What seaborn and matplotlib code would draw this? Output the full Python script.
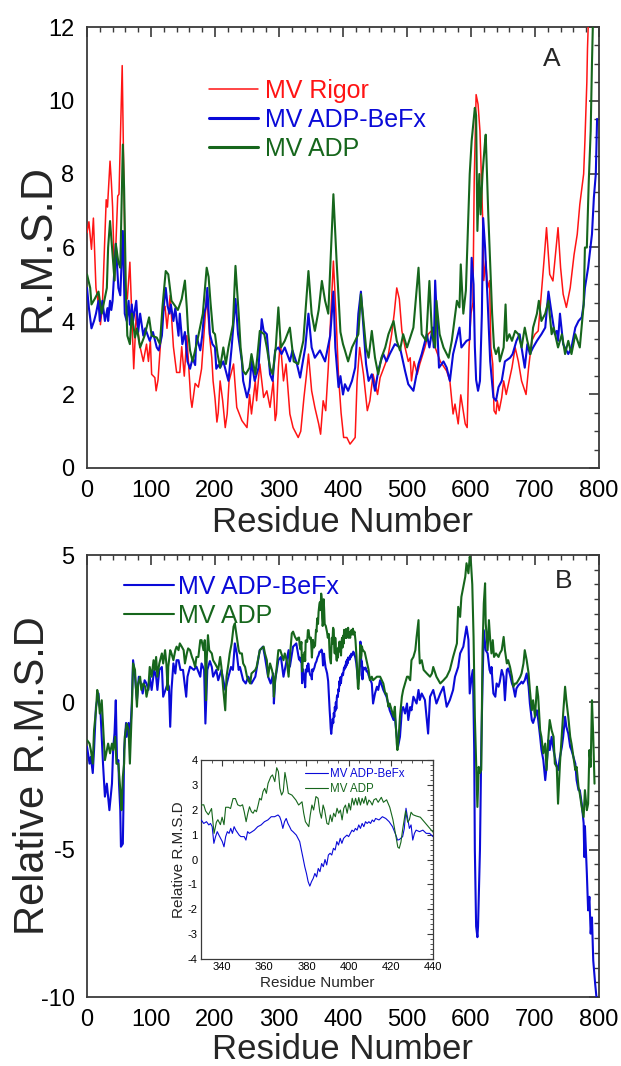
import matplotlib
matplotlib.use("Agg")
import matplotlib.pyplot as plt
import seaborn as sns
from matplotlib.ticker import MultipleLocator
from matplotlib.lines import Line2D

sns.set_style("white")
plt.rcParams['font.family'] = ['Liberation Sans', 'DejaVu Sans']
plt.rcParams['axes.unicode_minus'] = False

# ---------------- data (residue, value) ----------------
rigor_pts = [(0,6.4),(3,6.7),(7,5.95),(10,6.8),(14,4.9),(18,4.45),(19,4.7),(21,3.9),(24,4.4),(30,7.3),(32,7.1),(36,8.35),(38,7.8),(40,7.1),(43,5.1),(48,7.4),(50,7.45),(55,10.95),(60,4.9),(63,4.6),(67,5.6),(73,2.7),(77,4.2),(82,3.37),(88,2.9),(93,3.37),(96,2.9),(99,3.46),(101,2.55),(106,2.46),(108,2.1),(111,2.4),(118,4.2),(122,4.4),(125,3.8),(130,4.7),(135,3.3),(140,2.6),(145,2.6),(148,3.3),(152,2.5),(156,3.6),(162,1.9),(164,1.65),(169,2.3),(174,2.2),(179,2.7),(183,3.7),(187,4.7),(192,3.5),(195,3.0),(197,2.37),(200,1.9),(203,1.25),(205,1.5),(208,2.37),(212,1.83),(216,1.1),(219,1.47),(222,2.37),(229,2.83),(234,1.65),(242,1.29),(250,1.1),(254,2.0),(257,1.47),(263,2.37),(265,1.83),(270,2.83),(276,1.92),(281,2.1),(286,1.65),(291,2.37),(294,1.29),(296,1.47),(299,2.73),(302,3.46),(307,2.37),(311,2.83),(317,1.47),(322,1.1),(330,0.83),(334,1.0),(339,1.92),(343,2.55),(346,3.1),(351,2.1),(356,1.65),(362,1.2),(365,0.92),(369,1.83),(373,1.56),(377,2.73),(381,4.2),(385,5.63),(389,4.2),(393,2.5),(397,1.5),(401,0.83),(406,0.83),(411,0.65),(419,0.83),(422,2.37),(426,3.28),(432,2.55),(438,1.56),(442,1.83),(447,2.55),(454,2.0),(458,2.46),(466,2.83),(471,3.1),(476,3.64),(480,4.2),(484,4.9),(488,4.6),(492,3.73),(497,3.28),(502,2.9),(505,3.0),(507,2.37),(511,2.9),(516,2.55),(520,2.83),(528,3.28),(533,3.64),(538,3.73),(544,3.28),(552,2.9),(562,2.64),(567,2.37),(572,1.47),(575,1.74),(580,1.2),(584,1.99),(591,1.2),(594,1.1),(597,3.28),(600,4.2),(603,4.5),(605,7.8),(608,10.16),(611,9.9),(614,9.17),(618,6.9),(620,5.1),(623,5.63),(626,4.9),(629,5.1),(631,3.28),(634,2.83),(636,1.56),(639,1.47),(641,1.83),(644,1.56),(648,1.92),(651,2.37),(655,2.0),(664,2.73),(669,3.28),(674,2.9),(679,2.37),(686,2.0),(690,2.73),(695,3.46),(700,3.64),(705,3.73),(709,4.55),(714,5.63),(718,6.54),(723,5.27),(728,5.09),(733,6.0),(736,6.54),(740,5.45),(744,4.73),(749,4.37),(755,4.9),(761,5.8),(766,6.36),(770,7.17),(776,8.0),(778,8.9),(781,10.5),(782,11.4),(784,12.5)]

befx_pts = [(0,4.9),(3,4.35),(7,3.8),(11,4.0),(14,4.2),(18,4.55),(20,4.0),(24,4.55),(28,4.0),(32,4.35),(33,4.0),(36,4.55),(38,4.3),(40,4.55),(45,6.1),(49,4.9),(52,4.7),(56,6.45),(59,4.2),(62,4.0),(65,4.55),(67,3.9),(70,4.45),(72,4.0),(77,4.55),(80,3.7),(83,4.2),(88,3.6),(91,3.8),(93,3.7),(98,3.46),(103,3.7),(109,3.28),(112,3.2),(117,3.6),(120,4.4),(123,4.9),(126,4.4),(129,4.2),(131,4.45),(135,4.0),(138,4.35),(143,3.6),(145,4.2),(149,3.37),(153,3.7),(157,2.9),(161,2.7),(165,2.99),(169,2.8),(171,3.6),(177,3.2),(180,3.6),(183,4.2),(186,4.4),(188,4.9),(192,3.64),(196,3.37),(200,3.28),(202,2.7),(205,2.8),(208,2.73),(213,2.9),(221,2.37),(226,3.28),(232,4.6),(236,3.64),(242,2.9),(244,2.37),(250,1.92),(254,2.2),(257,2.9),(262,2.37),(268,2.73),(270,3.28),(273,4.05),(276,3.73),(281,3.64),(286,2.55),(290,2.37),(294,3.2),(299,3.28),(304,3.1),(309,3.28),(317,2.9),(321,3.2),(328,2.83),(333,2.46),(341,3.28),(346,4.2),(351,3.28),(356,3.0),(364,3.2),(372,2.9),(380,3.6),(385,4.8),(388,3.28),(393,2.2),(396,2.5),(400,2.0),(403,2.28),(408,2.1),(414,2.37),(419,2.73),(424,4.2),(428,4.8),(432,3.8),(436,2.83),(440,2.37),(445,2.55),(450,2.1),(455,2.64),(459,2.9),(463,3.1),(468,2.9),(473,3.1),(481,3.37),(489,3.28),(497,2.64),(502,2.28),(510,2.1),(518,2.83),(523,3.1),(531,3.64),(535,3.28),(540,3.82),(542,3.28),(544,5.1),(550,2.73),(557,2.9),(562,2.73),(567,2.37),(572,3.1),(582,3.82),(585,3.28),(593,3.46),(598,3.5),(601,5.72),(604,5.0),(606,3.3),(608,2.4),(611,2.1),(614,2.37),(617,4.2),(619,6.8),(622,6.0),(626,4.55),(630,2.9),(635,1.92),(639,1.83),(643,2.2),(648,2.37),(653,2.9),(661,3.0),(665,3.1),(671,3.46),(676,3.64),(679,3.28),(684,2.73),(688,3.37),(692,3.1),(697,3.28),(703,3.46),(710,3.64),(716,3.82),(721,4.8),(726,4.2),(731,3.64),(734,3.73),(736,3.46),(739,4.2),(744,3.37),(752,3.1),(757,3.28),(763,3.82),(768,4.0),(773,4.1),(776,4.45),(778,4.9),(783,5.45),(789,6.36),(792,7.36),(795,8.0),(797,9.5)]

adp_pts = [(0,5.27),(5,4.9),(7,4.45),(12,4.6),(18,4.8),(23,4.2),(27,4.55),(31,4.9),(33,6.0),(36,6.72),(40,5.8),(43,5.1),(45,6.1),(49,5.6),(52,5.45),(56,8.8),(58,7.6),(61,4.6),(63,3.6),(67,3.37),(70,4.2),(75,3.55),(78,3.8),(83,3.28),(90,3.6),(97,4.1),(101,3.6),(109,3.55),(114,3.37),(118,4.4),(123,5.36),(127,5.27),(132,4.55),(136,4.45),(142,4.3),(148,4.6),(153,5.1),(156,4.35),(158,3.7),(161,3.2),(165,2.9),(170,3.28),(174,3.6),(181,4.2),(187,5.45),(190,5.2),(193,4.5),(197,3.7),(200,3.64),(204,3.1),(208,2.73),(213,3.28),(217,2.83),(221,3.28),(228,3.9),(232,5.5),(237,4.2),(240,3.28),(244,2.64),(248,2.55),(254,2.73),(257,3.1),(263,2.55),(266,3.0),(270,3.73),(277,3.64),(281,3.28),(286,2.73),(290,2.55),(295,3.3),(299,4.37),(303,3.28),(309,3.46),(317,3.82),(323,2.9),(330,2.83),(338,3.46),(346,5.36),(351,4.2),(356,3.73),(362,4.3),(367,5.09),(372,4.55),(377,4.2),(385,7.45),(390,5.63),(396,3.7),(400,3.37),(403,3.2),(408,2.9),(414,3.28),(419,3.46),(424,3.64),(428,4.73),(431,4.2),(436,3.28),(440,3.0),(445,3.73),(450,3.0),(455,2.55),(460,3.0),(466,3.28),(471,3.64),(479,4.0),(484,3.46),(489,3.2),(494,3.64),(500,3.28),(510,3.82),(518,5.45),(523,3.64),(530,3.46),(535,5.09),(539,3.64),(544,3.28),(546,4.55),(551,3.64),(557,3.28),(565,3.0),(570,3.46),(578,4.55),(582,4.37),(584,5.54),(588,4.2),(592,4.83),(596,6.9),(598,8.0),(601,8.9),(604,9.44),(606,9.8),(608,9.6),(610,6.45),(613,8.0),(615,6.9),(618,8.0),(622,8.9),(623,9.07),(627,6.9),(631,5.1),(633,4.2),(636,3.28),(639,3.1),(643,3.28),(645,2.9),(651,3.28),(654,4.45),(656,3.46),(660,3.64),(664,3.46),(669,3.73),(674,3.64),(679,3.28),(684,3.82),(688,3.46),(693,3.1),(697,3.82),(703,4.2),(706,4.55),(710,4.0),(716,4.2),(721,4.55),(726,3.64),(729,3.82),(736,3.28),(742,3.64),(747,3.1),(752,3.46),(757,3.1),(763,3.64),(770,3.28),(776,4.45),(778,6.0),(781,6.0),(784,7.8),(787,9.17),(789,11.0),(791,12.5)]

# relative RMSD, panel B: residues 0-329 and 441-800 (330-440 from the inset arrays)
befx_rel_lo = [(0,-1.51),(4,-2.08),(6,-1.85),(9,-2.4),(11,-1.62),(14,-0.15),(18,0.3),(19,-0.05),(21,-0.27),(25,-2.08),(28,-3.2),(31,-2.76),(35,-3.66),(37,-3.2),(39,-2.76),(41,-1.51),(43,-1.05),(45,0.07),(47,-2.08),(49,-1.96),(50,-2.76),(52,-3.66),(53,-4.9),(56,-4.8),(57,-3.44),(58,-1.62),(61,-0.7),(62,-1.17),(65,-0.7),(67,-1.28),(70,-0.05),(72,1.43),(75,0.87),(78,0.07),(81,0.87),(84,0.64),(87,0.3),(90,0.75),(93,0.64),(96,0.42),(98,0.87),(101,0.42),(105,1.1),(108,0.87),(110,0.42),(113,1.1),(117,1.2),(119,0.19),(126,0.64),(128,0.53),(130,-0.83),(132,0.42),(135,1.32),(138,0.98),(140,1.43),(143,1.43),(146,1.1),(150,1.1),(155,0.19),(157,0.87),(161,1.21),(167,1.1),(171,1.21),(177,0.87),(179,1.32),(183,1.1),(185,-0.72),(188,1.1),(192,1.4),(195,1.2),(197,0.87),(202,1.1),(205,0.75),(210,1.1),(216,0.42),(221,0.87),(225,1.2),(228,1.1),(231,2.0),(234,1.66),(237,1.1),(239,1.2),(244,0.75),(248,0.64),(252,0.87),(257,0.64),(263,0.87),(270,1.77),(275,1.89),(278,1.54),(283,0.87),(287,0.64),(291,0.98),(292,-0.04),(294,0.75),(299,1.43),(303,1.54),(307,0.87),(315,1.77),(317,1.21),(322,1.89),(327,2.0)]
befx_rel_hi = [(445,0.64),(447,-0.04),(450,0.3),(453,0.53),(455,0.42),(458,0.75),(463,0.42),(468,0.19),(473,-0.27),(479,-0.6),(481,-0.49),(484,-1.17),(486,-1.5),(489,-1.17),(492,-0.27),(494,-0.16),(497,-0.38),(500,-0.04),(502,-0.6),(505,-0.16),(507,-0.27),(510,0.19),(515,-0.04),(518,0.42),(520,0.08),(523,0.3),(528,0.08),(533,-1.06),(536,0.19),(541,0.42),(546,-0.04),(552,0.3),(557,0.53),(562,-0.15),(567,0.08),(572,0.42),(575,0.87),(580,1.2),(583,1.66),(588,1.89),(593,2.57),(596,2.12),(598,0.3),(601,0.87),(603,1.1),(605,-1.6),(606,-5.0),(608,-7.6),(610,-7.97),(611,-7.6),(614,-5.0),(616,-1.6),(618,0.64),(620,2.45),(623,1.77),(626,1.66),(629,1.1),(631,0.98),(632,1.2),(635,0.3),(638,0.19),(640,0.64),(643,0.53),(645,0.7),(648,1.1),(651,0.87),(653,0.07),(656,1.1),(658,1.15),(661,0.93),(664,0.64),(666,0.53),(669,0.19),(671,0.47),(674,0.58),(677,0.64),(679,0.7),(681,0.64),(684,0.75),(687,0.98),(690,0.53),(692,-0.04),(695,-0.6),(697,-0.7),(703,-0.27),(705,-0.6),(708,-1.17),(710,-1.6),(713,-1.96),(716,-2.64),(718,-2.19),(721,-1.28),(723,-1.62),(726,-1.17),(729,-1.62),(731,-1.85),(734,-2.19),(736,-2.3),(739,-1.85),(742,-1.51),(744,-1.17),(747,-0.49),(749,-0.83),(752,-1.06),(755,-1.51),(757,-1.62),(760,-1.85),(763,-2.08),(765,-2.64),(768,-2.98),(770,-2.98),(773,-3.44),(776,-4.1),(777,-5.25),(778,-4.2),(781,-5.8),(783,-7.06),(785,-6.6),(787,-7.85),(789,-7.3),(791,-8.76),(794,-9.55),(796,-10.0),(798,-10.5)]

adp_rel_lo = [(0,-1.28),(4,-1.4),(6,-1.62),(9,-2.08),(11,-0.95),(14,-0.27),(16,0.42),(18,0.19),(20,-0.38),(23,0.07),(26,-1.17),(28,-1.96),(31,-1.62),(33,-1.4),(36,-1.73),(39,-1.4),(41,-1.62),(44,-1.17),(46,-2.08),(49,-2.08),(52,-2.98),(54,-3.66),(56,-2.53),(58,-2.08),(59,-1.17),(62,-0.72),(65,-0.95),(67,-2.08),(70,-0.27),(72,1.32),(75,1.1),(78,-0.15),(80,0.64),(83,0.87),(85,0.42),(88,0.64),(91,0.53),(93,0.19),(96,0.53),(98,1.2),(101,0.87),(104,1.43),(106,1.1),(108,1.54),(110,0.87),(113,1.32),(117,1.66),(119,1.32),(122,1.77),(124,1.32),(126,0.42),(127,1.2),(130,1.77),(132,1.66),(135,1.43),(138,1.77),(140,1.89),(143,1.77),(145,2.0),(148,1.89),(151,1.77),(153,1.32),(156,1.66),(158,1.83),(161,1.77),(164,1.54),(166,1.43),(169,1.2),(171,1.54),(174,1.54),(177,2.11),(179,2.11),(182,1.77),(184,2.11),(186,0.07),(187,1.43),(189,2.28),(191,1.77),(195,1.66),(197,1.43),(200,1.32),(203,1.2),(205,1.1),(208,1.54),(210,1.2),(213,0.42),(216,-0.27),(218,0.87),(221,1.32),(223,1.66),(226,2.0),(229,2.57),(231,2.68),(234,2.22),(237,1.77),(239,1.66),(242,1.66),(244,1.32),(247,1.2),(250,0.87),(252,0.75),(255,0.64),(257,0.98),(263,1.1),(265,1.2),(270,1.77),(276,1.89),(278,1.66),(281,1.43),(283,0.87),(286,1.32),(289,1.1),(291,0.87),(292,0.19),(294,0.75),(296,1.1),(299,1.77),(302,1.77),(307,1.43),(309,1.66),(312,1.43),(315,0.87),(317,1.54),(320,2.34),(322,2.4),(325,2.22),(328,2.11)]
adp_rel_hi = [(442,0.75),(445,0.87),(447,0.75),(453,0.87),(458,0.87),(463,0.64),(466,0.3),(468,0.3),(471,-0.15),(473,-0.04),(476,-0.27),(479,-0.49),(481,-0.15),(484,-1.4),(485,-1.62),(487,-1.17),(489,-0.49),(492,0.19),(494,0.42),(497,0.64),(500,0.87),(502,0.87),(505,0.75),(507,1.43),(510,1.54),(513,1.77),(515,2.22),(518,2.79),(519,1.77),(520,1.32),(523,1.43),(526,1.1),(531,0.98),(536,0.87),(539,0.98),(541,1.2),(546,0.87),(552,0.64),(557,0.75),(562,0.87),(567,1.1),(572,1.54),(578,2.0),(580,3.24),(583,2.9),(585,3.58),(588,3.92),(591,4.26),(593,4.72),(596,4.38),(598,4.94),(600,4.72),(602,4.0),(604,2.22),(606,-0.49),(608,-2.08),(610,-3.55),(612,-2.19),(614,-2.4),(616,-2.3),(618,1.77),(620,3.36),(622,4.04),(623,2.68),(626,1.77),(628,2.79),(630,2.11),(632,1.66),(634,2.11),(636,1.54),(639,1.66),(643,1.54),(645,1.66),(648,1.77),(651,2.22),(653,1.77),(656,1.32),(658,1.43),(661,1.2),(664,0.87),(666,0.53),(669,0.64),(671,0.64),(674,0.75),(677,0.87),(679,0.98),(682,1.32),(684,1.77),(687,1.43),(690,0.98),(692,0.42),(695,-0.27),(697,0.07),(700,-0.49),(703,0.53),(705,0.19),(708,-0.95),(710,-1.17),(713,-1.73),(716,-1.4),(718,-2.3),(721,-1.17),(723,-0.6),(726,-0.95),(729,-1.17),(731,-2.08),(734,-2.19),(736,-3.44),(739,-2.08),(742,-1.06),(744,-0.38),(747,0.53),(749,0.07),(752,-0.49),(755,-1.17),(757,-1.4),(760,-1.85),(763,-2.3),(765,-2.19),(768,-2.87),(770,-3.1),(773,-3.55),(776,-3.89),(778,-2.98),(781,-3.66),(783,-3.44),(785,-1.62),(787,-2.19),(789,0.07),(791,-1.17),(793,-2.76)]

# inset: residues 330-440
befx_zoom = [(330.0,1.6),(331.3,1.45),(332.6,1.52),(333.7,1.39),(334.5,1.45),(335.3,1.32),(336.1,0.65),(336.9,0.92),(337.7,1.12),(338.5,0.98),(339.3,0.85),(340.1,0.72),(340.9,0.51),(341.7,0.92),(342.5,1.12),(343.3,1.05),(344.1,1.25),(344.9,1.05),(345.7,1.32),(346.5,1.18),(348.1,0.98),(348.9,0.92),(350.5,0.92),(351.3,0.78),(352.1,1.12),(352.9,1.05),(353.7,1.09),(355.3,1.18),(356.9,1.32),(358.5,1.39),(360.1,1.52),(361.7,1.59),(363.3,1.72),(364.9,1.72),(366.5,1.79),(367.3,1.72),(368.0,1.55),(368.8,1.25),(369.6,1.52),(370.4,1.65),(371.2,1.45),(372.0,1.32),(372.8,1.18),(373.6,1.12),(375.2,0.98),(376.8,0.72),(377.6,0.38),(378.4,0.05),(379.2,-0.29),(380.0,-0.56),(380.8,-0.89),(381.6,-1.07),(382.4,-0.89),(383.2,-0.76),(384.0,-0.56),(384.8,-0.7),(385.6,-0.36),(386.4,-0.49),(387.2,-0.16),(388.0,-0.29),(388.8,0.0),(389.6,-0.22),(390.4,0.18),(391.2,0.25),(392.0,0.18),(392.8,0.45),(393.6,0.38),(394.4,0.72),(395.2,0.58),(396.0,0.85),(396.8,0.65),(397.6,0.85),(398.4,0.92),(399.2,0.98),(400.0,0.92),(400.8,1.05),(401.6,1.18),(402.4,1.12),(403.2,1.25),(404.0,1.18),(404.8,1.39),(405.6,1.25),(406.4,1.45),(407.2,1.32),(408.0,1.52),(408.8,1.45),(409.6,1.52),(410.4,1.45),(411.2,1.59),(412.0,1.52),(412.8,1.65),(414.4,1.59),(416.0,1.72),(417.6,1.65),(419.2,1.52),(420.8,1.32),(422.4,0.98),(423.2,0.78),(424.0,0.8),(425.6,0.92),(426.4,1.25),(427.2,2.06),(428.0,1.65),(428.8,1.25),(429.6,1.39),(430.4,0.78),(431.2,1.05),(432.0,1.18),(433.6,1.12),(435.2,1.18),(436.8,1.05),(438.4,1.05),(440.0,0.92)]
adp_zoom = [(330.0,2.19),(331.3,2.2),(332.2,1.95),(333.5,1.8),(335.0,2.05),(336.2,1.05),(337.3,1.5),(338.0,1.6),(339.2,1.4),(340.0,1.7),(340.9,1.4),(341.7,2.1),(343.0,2.1),(344.0,2.05),(345.2,2.45),(346.3,2.45),(347.4,2.2),(348.6,2.15),(349.7,2.2),(350.5,1.92),(351.4,1.52),(352.2,1.86),(353.0,2.12),(353.9,1.92),(354.7,1.86),(355.5,1.99),(356.3,1.92),(357.1,2.19),(357.8,2.46),(358.6,2.39),(359.4,2.73),(360.2,2.86),(361.0,2.66),(361.8,3.06),(363.1,3.33),(363.9,3.4),(365.0,3.13),(365.9,3.69),(366.7,3.53),(367.4,2.86),(368.2,2.59),(369.0,2.73),(369.8,3.5),(370.6,3.13),(371.4,2.66),(373.1,2.59),(375.0,2.39),(376.3,2.19),(377.9,2.32),(378.7,1.86),(379.5,1.52),(381.1,1.32),(381.8,1.79),(382.6,2.19),(383.4,1.99),(384.5,2.53),(385.5,2.46),(386.3,1.92),(387.1,1.66),(387.9,2.19),(388.6,1.99),(389.7,1.45),(390.5,1.41),(391.3,1.79),(392.1,1.52),(392.9,1.86),(393.7,1.72),(394.5,2.06),(395.3,1.86),(396.1,1.99),(396.9,1.59),(397.7,2.06),(398.5,2.19),(399.3,1.86),(400.1,2.26),(400.9,1.99),(401.7,2.46),(402.5,2.19),(403.3,2.46),(404.1,2.19),(404.8,2.49),(405.6,2.19),(406.4,2.46),(407.2,2.26),(408.0,2.53),(408.8,2.19),(409.6,2.39),(410.4,2.32),(411.2,2.19),(412.0,2.4),(413.0,2.45),(414.0,2.3),(415.5,2.5),(416.5,2.3),(418.0,2.4),(419.5,2.1),(421.0,1.6),(422.5,0.9),(423.3,0.5),(424.0,0.45),(424.8,0.7),(425.6,1.2),(427.0,1.95),(428.0,1.5),(428.8,1.6),(429.6,1.9),(430.5,1.8),(432.0,1.75),(434.0,1.7),(436.0,1.5),(438.0,1.3),(440.0,1.1)]

labels_A = ["MV Rigor", "MV ADP-BeFx", "MV ADP"]
labels_B = ["MV ADP-BeFx", "MV ADP"]

RED, BLUE, GREEN = "#ff1414", "#0a0ad8", "#16661c"
FRAME = "#3a3a3a"


def unzip(pts):
    return [p[0] for p in pts], [p[1] for p in pts]


def draw(ax, pts, color, lw, z):
    x, y = unzip(pts)
    sns.lineplot(x=x, y=y, ax=ax, color=color, linewidth=lw, sort=False,
                 estimator=None, legend=False, zorder=z)


def style(ax, xmaj, xmin, ymaj, ymin, lsize, big=True):
    for s in ax.spines.values():
        s.set_color(FRAME)
        s.set_linewidth(1.3 if big else 0.9)
    ax.xaxis.set_major_locator(MultipleLocator(xmaj))
    ax.xaxis.set_minor_locator(MultipleLocator(xmin))
    ax.yaxis.set_major_locator(MultipleLocator(ymaj))
    ax.yaxis.set_minor_locator(MultipleLocator(ymin))
    ax.tick_params(which='both', direction='in', top=True, right=True,
                   colors=FRAME, labelcolor='black', labelsize=lsize)
    if big:
        ax.tick_params(which='major', length=7, width=1.2, pad=9)
        ax.tick_params(which='minor', length=3.5, width=1.0)
    else:
        ax.tick_params(which='major', length=4, width=0.8, pad=2.5)
        ax.tick_params(which='minor', length=2, width=0.6)
    ax.grid(False)


fig = plt.figure(figsize=(6.21, 10.66), dpi=100)
W, H = 621.0, 1066.0
axA = fig.add_axes([87 / W, 1 - 468 / H, 512 / W, 441 / H])
axB = fig.add_axes([87 / W, 1 - 997 / H, 512 / W, 442 / H])
axI = fig.add_axes([201 / W, 1 - 959 / H, 232 / W, 199 / H])
for ax in (axA, axB, axI):
    ax.set_facecolor('white')

# ---------------- panel A ----------------
draw(axA, rigor_pts, RED, 1.1, 3)
draw(axA, befx_pts, BLUE, 1.5, 4)
draw(axA, adp_pts, GREEN, 1.5, 5)
axA.set_xlim(0, 800)
axA.set_ylim(0, 12)
style(axA, 100, 20, 2, 0.5, 17)
axA.set_xlabel("Residue Number", fontsize=25)
axA.set_ylabel("R.M.S.D", fontsize=32)
axA.xaxis.set_label_coords(0.5, -0.087)
axA.yaxis.set_label_coords(-0.056, 0.5)
hA = [Line2D([], [], color=RED, lw=1.1), Line2D([], [], color=BLUE, lw=2.2),
      Line2D([], [], color=GREEN, lw=2.2)]
legA = axA.legend(hA, labels_A, loc='upper left', bbox_to_anchor=(0.238, 0.882),
                  frameon=False, fontsize=18, handlelength=1.96, handletextpad=0.28,
                  labelspacing=0.2, borderpad=0, borderaxespad=0)
for t, c in zip(legA.get_texts(), [RED, BLUE, GREEN]):
    t.set_color(c)
axA.text(0.908, 0.927, "A", transform=axA.transAxes, fontsize=19,
         ha='center', va='center')

# ---------------- panel B ----------------
bx = befx_rel_lo + befx_zoom + befx_rel_hi
gx = adp_rel_lo + adp_zoom + adp_rel_hi
draw(axB, bx, BLUE, 1.5, 3)
draw(axB, gx, GREEN, 1.5, 4)
axB.set_xlim(0, 800)
axB.set_ylim(-10, 5)
style(axB, 100, 20, 5, 0.5, 17)
axB.set_xlabel("Residue Number", fontsize=25)
axB.set_ylabel("Relative R.M.S.D", fontsize=30)
axB.xaxis.set_label_coords(0.5, -0.0824)
axB.yaxis.set_label_coords(-0.066, 0.5)
hB = [Line2D([], [], color=BLUE, lw=1.5), Line2D([], [], color=GREEN, lw=1.5)]
legB = axB.legend(hB, labels_B, loc='upper left', bbox_to_anchor=(0.072, 0.955),
                  frameon=False, fontsize=18, handlelength=2.0, handletextpad=0.16,
                  labelspacing=0.2, borderpad=0, borderaxespad=0)
for t, c in zip(legB.get_texts(), [BLUE, GREEN]):
    t.set_color(c)
axB.text(0.93, 0.941, "B", transform=axB.transAxes, fontsize=19,
         ha='center', va='center')

# ---------------- inset ----------------
draw(axI, befx_zoom, BLUE, 0.8, 3)
draw(axI, adp_zoom, GREEN, 0.8, 4)
axI.set_xlim(330, 440)
axI.set_ylim(-4, 4)
style(axI, 20, 5, 1, 0.2, 8, big=False)
axI.set_xticks([340, 360, 380, 400, 420, 440])
axI.set_xlabel("Residue Number", fontsize=11)
axI.set_ylabel("Relative R.M.S.D", fontsize=11)
axI.xaxis.set_label_coords(0.5, -0.085)
axI.yaxis.set_label_coords(-0.063, 0.5)
hI = [Line2D([], [], color=BLUE, lw=0.8), Line2D([], [], color=GREEN, lw=0.8)]
legI = axI.legend(hI, labels_B, loc='upper left', bbox_to_anchor=(0.448, 0.96),
                  frameon=False, fontsize=8.3, handlelength=2.0, handletextpad=0.17,
                  labelspacing=0.25, borderpad=0, borderaxespad=0)
for t, c in zip(legI.get_texts(), [BLUE, GREEN]):
    t.set_color(c)

fig.savefig("out.png", dpi=100)
